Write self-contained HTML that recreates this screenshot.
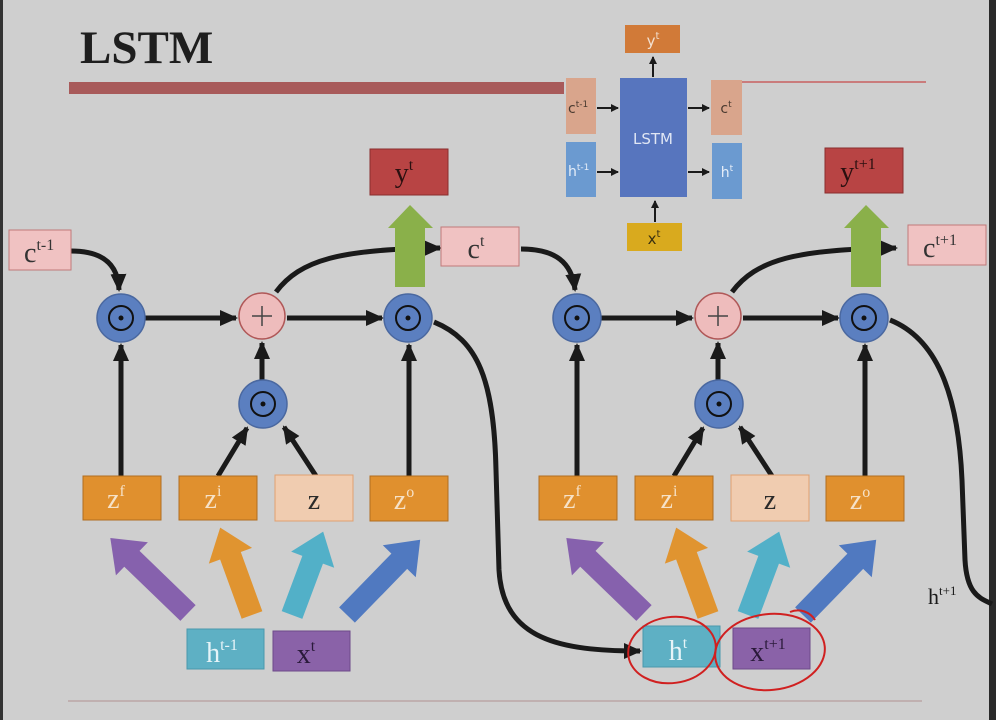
<!DOCTYPE html>
<html><head><meta charset="utf-8"><style>
html,body{margin:0;padding:0;background:#cfcfcf;}
svg{display:block;}
text{font-family:"Liberation Serif",serif;}
text.s{font-family:"DejaVu Sans","Liberation Sans",sans-serif;}
</style></head><body>
<svg width="996" height="720" viewBox="0 0 996 720" xmlns="http://www.w3.org/2000/svg">
<defs>
<marker id="ah" markerUnits="userSpaceOnUse" markerWidth="20" markerHeight="20" viewBox="0 0 20 20" refX="16" refY="10" orient="auto">
<path d="M0,2 L18,10 L0,18 Z" fill="#1a1a1a"/></marker>
<marker id="as" markerUnits="userSpaceOnUse" markerWidth="8" markerHeight="8" viewBox="0 0 8 8" refX="7" refY="4" orient="auto">
<path d="M0,0 L8,4 L0,8 Z" fill="#1a1a1a"/></marker>
</defs>
<rect width="996" height="720" fill="#cfcfcf"/>
<rect x="0" y="0" width="3" height="720" fill="#333"/>
<rect x="989" y="0" width="7" height="720" fill="#2a2a2a"/>
<text x="80" y="63" font-size="47" font-weight="bold" fill="#1e1e1e">LSTM</text>
<rect x="69" y="82" width="495" height="12" fill="#a85a5a"/>
<line x1="742" y1="82" x2="926" y2="82" stroke="#c86060" stroke-width="1.5"/>
<line x1="68" y1="701" x2="922" y2="701" stroke="#b09090" stroke-width="1"/>

<!-- small diagram -->
<rect x="625" y="25" width="55" height="28" fill="#d17a38"/>
<text class="s" x="653" y="46" font-size="15" fill="#f3e0d0" text-anchor="middle">y<tspan font-size="10" dy="-7">t</tspan></text>
<line x1="653" y1="77" x2="653" y2="57" stroke="#1a1a1a" stroke-width="2" marker-end="url(#as)"/>
<rect x="620" y="78" width="67" height="119" fill="#5775be"/>
<text class="s" x="653" y="144" font-size="15" fill="#e0e6f4" text-anchor="middle">LSTM</text>
<rect x="566" y="78" width="30" height="56" fill="#d9a58c"/>
<text class="s" x="568" y="113" font-size="14" fill="#4a3a30">c<tspan font-size="9" dy="-6">t-1</tspan></text>
<rect x="566" y="142" width="30" height="55" fill="#6b9ad0"/>
<text class="s" x="568" y="176" font-size="14" fill="#e6eef8">h<tspan font-size="9" dy="-6">t-1</tspan></text>
<rect x="711" y="80" width="31" height="55" fill="#d9a58c"/>
<text class="s" x="726" y="113" font-size="14" fill="#4a3a30" text-anchor="middle">c<tspan font-size="9" dy="-6">t</tspan></text>
<rect x="712" y="143" width="30" height="56" fill="#6b9ad0"/>
<text class="s" x="727" y="177" font-size="14" fill="#e6eef8" text-anchor="middle">h<tspan font-size="9" dy="-6">t</tspan></text>
<line x1="597" y1="108" x2="618" y2="108" stroke="#1a1a1a" stroke-width="2" marker-end="url(#as)"/>
<line x1="597" y1="172" x2="618" y2="172" stroke="#1a1a1a" stroke-width="2" marker-end="url(#as)"/>
<line x1="688" y1="108" x2="709" y2="108" stroke="#1a1a1a" stroke-width="2" marker-end="url(#as)"/>
<line x1="688" y1="172" x2="709" y2="172" stroke="#1a1a1a" stroke-width="2" marker-end="url(#as)"/>
<rect x="627" y="223" width="55" height="28" fill="#d9aa1e"/>
<text class="s" x="654" y="244" font-size="15" fill="#3a3010" text-anchor="middle">x<tspan font-size="10" dy="-7">t</tspan></text>
<line x1="655" y1="222" x2="655" y2="201" stroke="#1a1a1a" stroke-width="2" marker-end="url(#as)"/>

<!-- cell template -->
<g id="cell">
<path d="M121,476 L121,345" stroke="#1a1a1a" stroke-width="5" fill="none" marker-end="url(#ah)"/>
<path d="M145,318 L236,318" stroke="#1a1a1a" stroke-width="5" fill="none" marker-end="url(#ah)"/>
<path d="M287,318 L382,318" stroke="#1a1a1a" stroke-width="5" fill="none" marker-end="url(#ah)"/>
<path d="M262,382 L262,343" stroke="#1a1a1a" stroke-width="5" fill="none" marker-end="url(#ah)"/>
<path d="M218,476 L247,428" stroke="#1a1a1a" stroke-width="5" fill="none" marker-end="url(#ah)"/>
<path d="M316,476 L284,427" stroke="#1a1a1a" stroke-width="5" fill="none" marker-end="url(#ah)"/>
<path d="M409,476 L409,345" stroke="#1a1a1a" stroke-width="5" fill="none" marker-end="url(#ah)"/>
<path d="M276,292 C300,260 340,249 440,248" stroke="#1a1a1a" stroke-width="5" fill="none" marker-end="url(#ah)"/>
<path d="M395,287 L395,228 L388,228 L410,205 L433,228 L425,228 L425,287 Z" fill="#8ab04a"/>
<circle cx="121" cy="318" r="24" fill="#5b7fc0" stroke="#4a68a0" stroke-width="1.5"/>
<circle cx="121" cy="318" r="12" fill="none" stroke="#111" stroke-width="2"/><circle cx="121" cy="318" r="2.5" fill="#111"/>
<circle cx="262" cy="316" r="23" fill="#eebcbc" stroke="#b05858" stroke-width="1.5"/>
<path d="M252,316 H272 M262,306 V326" stroke="#444" stroke-width="1.5"/>
<circle cx="408" cy="318" r="24" fill="#5b7fc0" stroke="#4a68a0" stroke-width="1.5"/>
<circle cx="408" cy="318" r="12" fill="none" stroke="#111" stroke-width="2"/><circle cx="408" cy="318" r="2.5" fill="#111"/>
<circle cx="263" cy="404" r="24" fill="#5b7fc0" stroke="#4a68a0" stroke-width="1.5"/>
<circle cx="263" cy="404" r="12" fill="none" stroke="#111" stroke-width="2"/><circle cx="263" cy="404" r="2.5" fill="#111"/>
<rect x="83" y="476" width="78" height="44" fill="#e0902e" stroke="#b06e20"/>
<text x="116" y="508" font-size="28" fill="#f6e2c8" text-anchor="middle">z<tspan font-size="16" dy="-12">f</tspan></text>
<rect x="179" y="476" width="78" height="44" fill="#e0902e" stroke="#b06e20"/>
<text x="213" y="508" font-size="28" fill="#f6e2c8" text-anchor="middle">z<tspan font-size="16" dy="-12">i</tspan></text>
<rect x="275" y="475" width="78" height="46" fill="#f0ccb0" stroke="#e0a070"/>
<text x="314" y="509" font-size="28" fill="#2a2a2a" text-anchor="middle">z</text>
<rect x="370" y="476" width="78" height="45" fill="#e0902e" stroke="#b06e20"/>
<text x="404" y="509" font-size="28" fill="#f6e2c8" text-anchor="middle">z<tspan font-size="16" dy="-12">o</tspan></text>
<g transform="translate(188,613) rotate(-136)"><path d="M0,-11 L78,-11 L78,-23 L108,0 L78,23 L78,11 L0,11 Z" fill="#8661ad"/></g>
<g transform="translate(252,615) rotate(-110)"><path d="M0,-11 L63,-11 L63,-23 L93,0 L63,23 L63,11 L0,11 Z" fill="#e09430"/></g>
<g transform="translate(292,615) rotate(-69.5)"><path d="M0,-11 L59,-11 L59,-23 L89,0 L59,23 L59,11 L0,11 Z" fill="#52b0c8"/></g>
<g transform="translate(347,615) rotate(-45.8)"><path d="M0,-11 L75,-11 L75,-23 L105,0 L75,23 L75,11 L0,11 Z" fill="#5079c0"/></g>
</g>
<use href="#cell" transform="translate(456,0)"/>

<path d="M71,251 C100,251 118,262 119,290" stroke="#1a1a1a" stroke-width="5" fill="none" marker-end="url(#ah)"/>
<rect x="9" y="230" width="62" height="40" fill="#f0c2c2" stroke="#c07a7a"/>
<text x="24" y="262" font-size="28" fill="#333">c<tspan font-size="16" dy="-12">t-1</tspan></text>
<rect x="370" y="149" width="78" height="46" fill="#b84444" stroke="#8a2e2e"/>
<text x="404" y="182" font-size="28" fill="#2a1010" text-anchor="middle">y<tspan font-size="16" dy="-12">t</tspan></text>
<rect x="441" y="227" width="78" height="39" fill="#f0c2c2" stroke="#c07a7a"/>
<text x="476" y="258" font-size="28" fill="#333" text-anchor="middle">c<tspan font-size="16" dy="-12">t</tspan></text>
<rect x="187" y="629" width="77" height="40" fill="#5eb0c4" stroke="#4a98ac"/>
<text x="222" y="662" font-size="28" fill="#e6f4f8" text-anchor="middle">h<tspan font-size="16" dy="-12">t-1</tspan></text>
<rect x="273" y="631" width="77" height="40" fill="#8a62a8" stroke="#6e4a8a"/>
<text x="306" y="663" font-size="28" fill="#2a1a3a" text-anchor="middle">x<tspan font-size="16" dy="-12">t</tspan></text>

<path d="M521,249 C555,249 572,262 575,290" stroke="#1a1a1a" stroke-width="5" fill="none" marker-end="url(#ah)"/>
<rect x="825" y="148" width="78" height="45" fill="#b84444" stroke="#8a2e2e"/>
<text x="858" y="181" font-size="28" fill="#2a1010" text-anchor="middle">y<tspan font-size="16" dy="-12">t+1</tspan></text>
<rect x="908" y="225" width="78" height="40" fill="#f0c2c2" stroke="#c07a7a"/>
<text x="940" y="257" font-size="28" fill="#333" text-anchor="middle">c<tspan font-size="16" dy="-12">t+1</tspan></text>
<rect x="643" y="626" width="77" height="41" fill="#5eb0c4" stroke="#4a98ac"/>
<text x="678" y="660" font-size="28" fill="#e6f4f8" text-anchor="middle">h<tspan font-size="16" dy="-12">t</tspan></text>
<rect x="733" y="628" width="77" height="41" fill="#8a62a8" stroke="#6e4a8a"/>
<text x="768" y="661" font-size="28" fill="#2a1a3a" text-anchor="middle">x<tspan font-size="16" dy="-12">t+1</tspan></text>

<path d="M434,322 C478,340 494,380 496,470 L499,570 C503,640 560,651 640,651" stroke="#1a1a1a" stroke-width="5" fill="none" marker-end="url(#ah)"/>
<path d="M890,320 C935,338 958,390 962,480 L965,560 C967,595 980,598 992,604" stroke="#1a1a1a" stroke-width="5" fill="none"/>
<text x="928" y="604" font-size="22" fill="#1a1a1a">h<tspan font-size="13" dy="-9">t+1</tspan></text>

<ellipse cx="672" cy="650" rx="44" ry="33" fill="none" stroke="#d02020" stroke-width="2" transform="rotate(-8 672 650)"/>
<ellipse cx="770" cy="652" rx="55" ry="38" fill="none" stroke="#d02020" stroke-width="2" transform="rotate(-6 770 652)"/>
<path d="M790,612 C800,608 810,612 815,620" fill="none" stroke="#d02020" stroke-width="2"/>
</svg>
</body></html>
